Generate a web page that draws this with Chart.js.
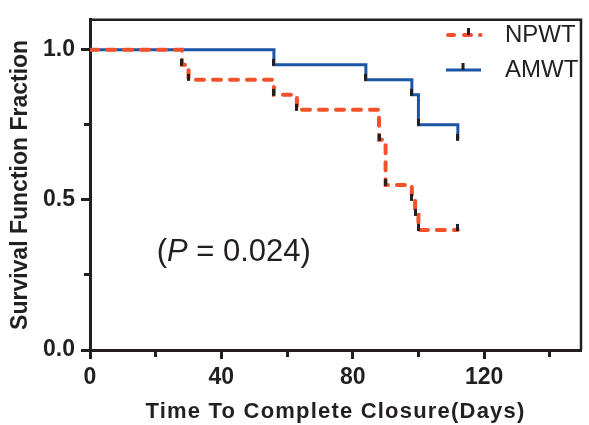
<!DOCTYPE html>
<html>
<head>
<meta charset="utf-8">
<script src="https://cdn.jsdelivr.net/npm/chart.js@4.4.0/dist/chart.umd.min.js"></script>
<style>
  body { margin: 0; background: #fff; }
  canvas { display: block; }
</style>
</head>
<body>
<canvas id="kmChart" width="589" height="425"></canvas>
<script>
// Kaplan-Meier steps
const seriesNames = ['NPWT', 'AMWT'];
const npwtDays = [0, 28, 30, 56, 63, 88, 90, 98, 99, 100, 112];
const npwtSurvival = [1.0, 0.95, 0.90, 0.85, 0.80, 0.70, 0.55, 0.50, 0.45, 0.40, 0.40];
const amwtDays = [0, 56, 84, 98, 100, 112];
const amwtSurvival = [1.0, 0.95, 0.90, 0.85, 0.75, 0.70];
const xMajorTicks = [0, 40, 80, 120];
const yMajorTicks = [0, 0.5, 1.0];
const pValueParts = ['(', 'P', ' = 0.024)'];

const ink = '#231f20';
const npwtColor = '#f4502a';
const amwtColor = '#1a56a6';
const family = "'Liberation Sans', Arial, sans-serif";

function isMajor(list, v) {
    return list.some(t => Math.abs(t - v) < 1e-9);
}

// small vertical censor mark, sitting on top of the point
function makeTick() {
    const c = document.createElement('canvas');
    c.width = 3;
    c.height = 14;
    const g = c.getContext('2d');
    g.fillStyle = ink;
    g.fillRect(0, 1, 3, 7);
    return c;
}

function makeLegendSample(color, dash, tickX) {
    const c = document.createElement('canvas');
    c.width = 38;
    c.height = 20;
    const g = c.getContext('2d');
    g.strokeStyle = color;
    g.lineWidth = dash ? 4 : 3;
    g.lineCap = dash ? 'round' : 'butt';
    g.setLineDash(dash || []);
    g.beginPath();
    g.moveTo(dash ? 3 : 1, 10);
    g.lineTo(36, 10);
    g.stroke();
    g.fillStyle = ink;
    g.fillRect(tickX - 1.5, 3, 3, 7);
    return c;
}

const censorTick = makeTick();
const legendSamples = [
    makeLegendSample(npwtColor, [6, 10, 7, 9, 0.5, 10], 23.5),
    makeLegendSample(amwtColor, null, 18)
];

const frameAndNote = {
    id: 'frameAndNote',
    afterLayout(chart) {
        // move the legend into the top right corner of the plot
        const lg = chart.legend;
        lg.left = 424;
        lg.right = 589;
        lg.top = 12;
        lg.bottom = 120;
    },
    beforeDraw(chart) {
        const xs = chart.scales.x;
        if (!xs._spaced) {
            const orig = xs.drawTitle;
            xs.drawTitle = function () {
                this.ctx.letterSpacing = '1.2px';
                orig.apply(this, arguments);
                this.ctx.letterSpacing = '0px';
            };
            xs._spaced = true;
        }
    },
    afterDatasetsDraw(chart) {
        const {ctx, chartArea, scales} = chart;
        ctx.save();
        ctx.strokeStyle = ink;
        ctx.lineWidth = 2.5;
        ctx.beginPath();
        ctx.moveTo(chartArea.left, chartArea.top);
        ctx.lineTo(chartArea.right, chartArea.top);
        ctx.lineTo(chartArea.right, chartArea.bottom);
        ctx.stroke();

        let x = scales.x.getPixelForValue(20.3);
        const y = scales.y.getPixelForValue(0.295);
        ctx.fillStyle = ink;
        ctx.textBaseline = 'alphabetic';
        pValueParts.forEach((part, i) => {
            ctx.font = (i === 1 ? 'italic ' : '') + '31px ' + family;
            ctx.fillText(part, x, y);
            x += ctx.measureText(part).width;
        });
        ctx.restore();
    }
};

new Chart(document.getElementById('kmChart'), {
    type: 'line',
    data: {
        datasets: [{
            label: seriesNames[0],
            data: npwtDays.map((d, i) => ({ x: d, y: npwtSurvival[i] })),
            stepped: 'before',
            borderColor: npwtColor,
            borderWidth: 4,
            borderDash: [8, 9],
            borderCapStyle: 'round',
            pointStyle: censorTick,
            pointRadius: c => c.dataIndex === 0 ? 0 : 4,
            fill: false
        }, {
            label: seriesNames[1],
            data: amwtDays.map((d, i) => ({ x: d, y: amwtSurvival[i] })),
            stepped: 'before',
            borderColor: amwtColor,
            borderWidth: 3,
            pointStyle: censorTick,
            pointRadius: c => c.dataIndex === 0 ? 0 : 4,
            fill: false
        }]
    },
    options: {
        responsive: false,
        animation: false,
        events: [],
        layout: { padding: { top: 16, right: 2, bottom: 0, left: 0 } },
        plugins: {
            tooltip: { enabled: false },
            legend: {
                position: 'chartArea',
                align: 'start',
                labels: {
                    usePointStyle: true,
                    pointStyleWidth: 58,
                    padding: 11,
                    color: ink,
                    font: { family, size: 24 },
                    generateLabels: chart => chart.data.datasets.map((ds, i) => ({
                        text: ds.label,
                        pointStyle: legendSamples[i],
                        fillStyle: ds.borderColor,
                        strokeStyle: ds.borderColor,
                        lineWidth: 0,
                        fontColor: ink,
                        hidden: false,
                        datasetIndex: i
                    }))
                }
            }
        },
        scales: {
            x: {
                type: 'linear',
                min: 0,
                max: 149.5,
                border: { display: true, color: ink, width: 3 },
                grid: {
                    drawOnChartArea: false,
                    tickLength: 9,
                    tickWidth: 3,
                    tickColor: ink,
                    tickBorderDash: c => isMajor(xMajorTicks, c.tick.value) ? [] : [5, 50]
                },
                ticks: {
                    stepSize: 20,
                    includeBounds: false,
                    autoSkip: false,
                    maxRotation: 0,
                    padding: 5,
                    color: ink,
                    font: { family, size: 23, weight: 'bold' },
                    callback: v => isMajor(xMajorTicks, v) ? String(v) : ''
                },
                title: {
                    display: true,
                    text: 'Time To Complete Closure(Days)',
                    color: ink,
                    font: { family, size: 22, weight: 'bold' },
                    padding: { top: 0, bottom: 0 }
                },
                afterFit: s => { s.height = 75; }
            },
            y: {
                min: 0,
                max: 1.1,
                border: { display: true, color: ink, width: 3 },
                grid: {
                    drawOnChartArea: false,
                    tickLength: 9,
                    tickWidth: 3,
                    tickColor: ink,
                    tickBorderDash: c => isMajor(yMajorTicks, c.tick.value) ? [] : [0, 3, 6, 50]
                },
                ticks: {
                    stepSize: 0.25,
                    includeBounds: false,
                    autoSkip: false,
                    padding: 6,
                    color: ink,
                    font: { family, size: 23, weight: 'bold' },
                    callback: v => isMajor(yMajorTicks, v) ? v.toFixed(1) : ''
                },
                title: {
                    display: true,
                    text: 'Survival Function Fraction',
                    color: ink,
                    font: { family, size: 23, weight: 'bold' },
                    padding: { top: 7, bottom: 0 }
                },
                afterFit: s => { s.width = 90; }
            }
        }
    },
    plugins: [frameAndNote]
});
</script>
</body>
</html>
